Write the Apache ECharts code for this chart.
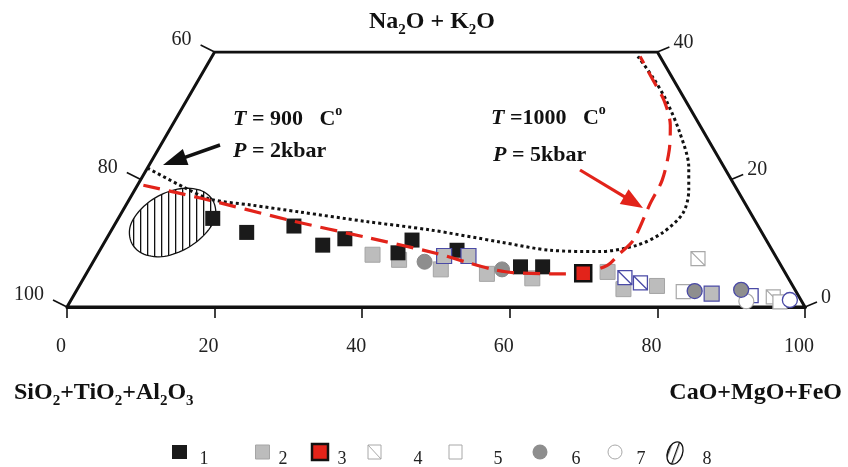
<!DOCTYPE html>
<html>
<head>
<meta charset="utf-8">
<script src="https://cdn.jsdelivr.net/npm/echarts@6/dist/echarts.min.js"></script>
<style>
html, body { margin: 0; padding: 0; background: #fff; }
#main { width: 848px; height: 467px; }
</style>
</head>
<body>
<div id="main"></div>
<script>
// points are [CaO+MgO+FeO, Na2O+K2O] in %, SiO2+TiO2+Al2O3 is the rest
var bottomTicks = [0, 20, 40, 60, 80, 100];
var leftTicks = [100, 80, 60];
var rightTicks = [0, 20, 40];
var frameCorners = [[0, 0], [100, 0], [60, 40], [0, 40], [0, 0]];

var group1 = [[12.8, 13.9], [18.5, 11.7], [24.4, 12.7], [29.8, 9.7], [32.3, 10.7], [40.6, 8.5], [41.5, 10.5], [48.4, 8.9], [58.3, 6.3], [61.3, 6.3]];
var group2 = [[37.3, 8.2], [41.3, 7.4], [47.7, 5.9], [54.3, 5.2], [60.8, 4.5], [70.5, 5.5], [74.0, 2.8], [78.3, 3.3]];
var group2b = [[47.1, 8.0], [50.4, 8.0], [86.3, 2.1]];
var group3 = [[67.3, 5.3]];
var group4 = [[81.7, 7.6], [94.9, 1.6]];
var group4b = [[73.3, 4.6], [75.8, 3.8]];
var group5 = [[82.3, 2.4], [96.2, 0.8]];
var group5b = [[91.8, 1.8]];
var group6 = [[44.9, 7.1], [56.0, 5.9]];
var group6b = [[83.8, 2.5], [90.0, 2.7]];
var group7 = [[91.6, 0.9]];
var group7b = [[97.4, 1.1]];

// field 8 outline
var field8 = [[11.6, 16.5], [9.2, 18.2], [6.4, 18.6], [3.9, 17.6], [2.4, 15.5], [2.2, 12.8], [3.6, 10.2], [6.0, 8.4], [8.9, 7.9], [11.4, 9.0], [12.9, 11.2], [13.1, 13.9]];

// T=900 C, P=2kbar (dotted)
var curve900 = [[0, 21.8], [6.4, 18.8], [11.0, 16.9], [16.9, 16.0], [24.1, 14.9], [33.9, 13.4], [43.1, 12.1], [53.6, 10.2], [61.0, 8.9], [67.8, 8.7], [72.4, 9.7], [74.9, 11.7], [76.1, 14.7], [75.1, 18.3], [73.3, 21.9], [69.4, 27.3], [65.0, 32.4], [61.4, 36.0], [57.7, 39.3]];
// T=1000 C, P=5kbar (dashed)
var curve1000 = [[0.8, 19.1], [9.5, 17.1], [23.4, 13.6], [35.2, 10.9], [45.9, 8.4], [50.7, 7.0], [54.8, 5.9], [57.7, 5.4], [63.8, 5.2], [66.9, 5.3], [69.9, 6.5], [70.7, 8.4], [71.5, 10.5], [70.9, 16.3], [70.7, 19.9], [69.3, 24.6], [67.5, 28.5], [64.7, 32.4], [61.6, 35.6], [58.0, 39.3]];

var serif = '"Liberation Serif", "Times New Roman", serif';
var blue = '#4a4aa6';
var pale = '#a8a8a8';
var red = '#e2231a';

function tern(p) { return [p[0] + p[1] / 2, p[1]]; }
function pts(arr) { return arr.map(tern); }

// closed catmull-rom through the outline pixels
function closedSpline(p, steps) {
    var out = [], n = p.length;
    for (var i = 0; i < n; i++) {
        var p0 = p[(i - 1 + n) % n], p1 = p[i], p2 = p[(i + 1) % n], p3 = p[(i + 2) % n];
        for (var s = 0; s < steps; s++) {
            var t = s / steps, t2 = t * t, t3 = t2 * t;
            out.push([0, 1].map(function (k) {
                return 0.5 * (2 * p1[k] + (-p0[k] + p2[k]) * t + (2 * p0[k] - 5 * p1[k] + 4 * p2[k] - p3[k]) * t2 +
                    (-p0[k] + 3 * p1[k] - 3 * p2[k] + p3[k]) * t3);
            }));
        }
    }
    return out;
}

var hatch = document.createElement('canvas');
hatch.width = 7; hatch.height = 7;
var hg = hatch.getContext('2d');
hg.fillStyle = '#fff'; hg.fillRect(0, 0, 7, 7);
hg.fillStyle = '#111'; hg.fillRect(0, 0, 1.3, 7);
var hatchFill = { image: hatch, repeat: 'repeat' };

var diagSquare = 'path://M0,0L10,0L10,10L0,10ZM0,0L10,10';

function dots(name, arr, symbol, size, style, z) {
    style.opacity = 1;
    return { type: 'scatter', name: name, data: pts(arr), symbol: symbol, symbolSize: size,
        symbolKeepAspect: true, itemStyle: style, z: z, silent: true };
}

function sideTicks(side) {
    return function (params, api) {
        var v = api.value(0);
        var p = side === 'left' ? api.coord(tern([0, 100 - v])) : api.coord(tern([100 - v, v]));
        var dx = side === 'left' ? -14 : 12, dy = side === 'left' ? -7 : -5;
        return {
            type: 'group',
            children: [
                { type: 'line', shape: { x1: p[0], y1: p[1], x2: p[0] + dx, y2: p[1] + dy },
                    style: { stroke: '#111', lineWidth: 1.6 } },
                { type: 'text', x: side === 'left' ? p[0] - 23 : p[0] + 16, y: p[1] + (side === 'left' ? -12 : -9.5),
                    style: { text: String(v), fontFamily: serif, fontSize: 20, fill: '#222',
                        align: side === 'left' ? 'right' : 'left', verticalAlign: 'middle' } }
            ]
        };
    };
}

function arrow(x1, y1, x2, y2, color, head, wide, lw) {
    var dx = x2 - x1, dy = y2 - y1, len = Math.sqrt(dx * dx + dy * dy);
    var ux = dx / len, uy = dy / len;
    var bx = x2 - ux * head, by = y2 - uy * head;
    return [
        { type: 'line', shape: { x1: x1, y1: y1, x2: bx + ux * 3, y2: by + uy * 3 }, style: { stroke: color, lineWidth: lw } },
        { type: 'polygon', shape: { points: [[x2, y2], [bx - uy * wide / 2, by + ux * wide / 2], [bx + uy * wide / 2, by - ux * wide / 2]] },
            style: { fill: color } }
    ];
}

var annRich = {
    i: { fontFamily: serif, fontSize: 22, fontWeight: 'bold', fontStyle: 'italic', lineHeight: 24, padding: [4, 0, 0, 0], verticalAlign: 'top', fill: '#111' },
    b: { fontFamily: serif, fontSize: 22, fontWeight: 'bold', lineHeight: 24, padding: [4, 0, 0, 0], verticalAlign: 'top', fill: '#111' },
    sup: { fontFamily: serif, fontSize: 14, fontWeight: 'bold', lineHeight: 14, verticalAlign: 'top', fill: '#111' }
};
var titleRich = {
    b: { fontFamily: serif, fontSize: 24, fontWeight: 'bold', lineHeight: 27, verticalAlign: 'top', fill: '#111' },
    s: { fontFamily: serif, fontSize: 15, fontWeight: 'bold', lineHeight: 16, padding: [13, 0, 0, 0], verticalAlign: 'top', fill: '#111' }
};

// legend
var legendY = 452;
var legendGraphics = [];
function legendLabel(txt, x) {
    legendGraphics.push({ type: 'text', x: x, y: legendY + 7, style: { text: txt, fontFamily: serif, fontSize: 18,
        fill: '#222', align: 'center', verticalAlign: 'middle' } });
}
legendGraphics.push({ type: 'rect', shape: { x: 172, y: legendY - 7, width: 15, height: 14 }, style: { fill: '#1a1a1a' } });
legendLabel('1', 204);
legendGraphics.push({ type: 'rect', shape: { x: 255.5, y: legendY - 7, width: 14, height: 14 }, style: { fill: '#bcbcbc', stroke: '#a5a5a5', lineWidth: 1 } });
legendLabel('2', 283);
legendGraphics.push({ type: 'rect', shape: { x: 312, y: legendY - 8, width: 16, height: 16 }, style: { fill: red, stroke: '#111', lineWidth: 2.5 } });
legendLabel('3', 342);
legendGraphics.push({ type: 'rect', shape: { x: 368, y: legendY - 7, width: 13, height: 14 }, style: { fill: '#fff', stroke: pale, lineWidth: 1 } });
legendGraphics.push({ type: 'line', shape: { x1: 368, y1: legendY - 7, x2: 381, y2: legendY + 7 }, style: { stroke: pale, lineWidth: 1 } });
legendLabel('4', 418);
legendGraphics.push({ type: 'rect', shape: { x: 449, y: legendY - 7, width: 13, height: 14 }, style: { fill: '#fff', stroke: pale, lineWidth: 1 } });
legendLabel('5', 498);
legendGraphics.push({ type: 'circle', shape: { cx: 540, cy: legendY, r: 7.5 }, style: { fill: '#8e8e8e' } });
legendLabel('6', 576);
legendGraphics.push({ type: 'circle', shape: { cx: 615, cy: legendY, r: 7 }, style: { fill: '#fff', stroke: pale, lineWidth: 1 } });
legendLabel('7', 641);
legendGraphics.push({ type: 'ellipse', x: 675, y: legendY + 1, rotation: -0.35, shape: { cx: 0, cy: 0, rx: 7.5, ry: 11.5 },
    style: { fill: hatchFill, stroke: '#111', lineWidth: 1.3 } });
legendLabel('8', 707);

var chart = echarts.init(document.getElementById('main'));

chart.setOption({
    animation: false,
    grid: { left: 67, top: 52, width: 738, height: 255 },
    xAxis: {
        type: 'value', min: 0, max: 100, interval: 20,
        axisLine: { lineStyle: { color: '#111', width: 3 } },
        axisTick: { show: true, inside: false, length: 11, lineStyle: { color: '#111', width: 1.6 } },
        axisLabel: { margin: 30, fontFamily: serif, fontSize: 20, color: '#222', padding: [0, 12, 0, 0],
            formatter: function (v) { return bottomTicks.indexOf(v) >= 0 ? String(v) : ''; } },
        splitLine: { show: false }
    },
    yAxis: { type: 'value', min: 0, max: 40, show: false, splitLine: { show: false } },
    series: [
        { type: 'line', data: pts(frameCorners), symbol: 'none', silent: true, z: 1,
            lineStyle: { color: '#111', width: 3, join: 'miter' } },
        { type: 'custom', coordinateSystem: 'cartesian2d', data: [[0, 0]], silent: true, z: 2,
            renderItem: function (params, api) {
                var poly = field8.map(function (p) { return api.coord(tern(p)); });
                return { type: 'polygon', shape: { points: closedSpline(poly, 8) },
                    style: { fill: hatchFill, stroke: '#111', lineWidth: 1.3 } };
            } },
        dots('2', group2, 'rect', 15, { color: '#bcbcbc', borderColor: '#a5a5a5', borderWidth: 1 }, 3),
        dots('1', group1, 'rect', 15, { color: '#1a1a1a' }, 4),
        dots('2b', group2b, 'rect', 15, { color: '#bcbcbc', borderColor: blue, borderWidth: 1.2 }, 5),
        dots('4', group4, diagSquare, 14, { color: '#fff', borderColor: pale, borderWidth: 1.2 }, 5),
        dots('4b', group4b, diagSquare, 14, { color: '#fff', borderColor: blue, borderWidth: 1.3 }, 5),
        dots('5', group5, 'rect', 14, { color: '#fff', borderColor: pale, borderWidth: 1.2 }, 5),
        dots('5b', group5b, 'rect', 14, { color: '#fff', borderColor: blue, borderWidth: 1.3 }, 5),
        dots('7', group7, 'circle', 15, { color: '#fff', borderColor: pale, borderWidth: 1.2 }, 6),
        dots('6', group6, 'circle', 15, { color: '#8e8e8e', borderColor: '#888', borderWidth: 1 }, 6),
        dots('6b', group6b, 'circle', 15, { color: '#8e8e8e', borderColor: blue, borderWidth: 1.3 }, 6),
        dots('7b', group7b, 'circle', 15, { color: '#fff', borderColor: blue, borderWidth: 1.3 }, 6),
        dots('3', group3, 'rect', 16, { color: red, borderColor: '#111', borderWidth: 2.5 }, 8),
        { type: 'line', data: pts(curve900), smooth: 0.3, symbol: 'none', silent: true, z: 7,
            lineStyle: { color: '#111', width: 3, type: [3, 3] } },
        { type: 'line', data: pts(curve1000), smooth: 0.3, symbol: 'none', silent: true, z: 7,
            lineStyle: { color: red, width: 3.2, type: [17, 9] } },
        { type: 'custom', coordinateSystem: 'cartesian2d', data: leftTicks.map(function (v) { return [v, 0]; }),
            renderItem: sideTicks('left'), silent: true, z: 9 },
        { type: 'custom', coordinateSystem: 'cartesian2d', data: rightTicks.map(function (v) { return [v, 0]; }),
            renderItem: sideTicks('right'), silent: true, z: 9 }
    ],
    graphic: [
        { type: 'text', x: 432, y: 10, style: { text: '{b|Na}{s|2}{b|O + K}{s|2}{b|O}', rich: titleRich, align: 'center', verticalAlign: 'top' } },
        { type: 'text', x: 14, y: 381, style: { text: '{b|SiO}{s|2}{b|+TiO}{s|2}{b|+Al}{s|2}{b|O}{s|3}', rich: titleRich, align: 'left', verticalAlign: 'top' } },
        { type: 'text', x: 842, y: 381, style: { text: '{b|CaO+MgO+FeO}', rich: titleRich, align: 'right', verticalAlign: 'top' } },
        { type: 'text', x: 233, y: 104, style: { text: '{i|T}{b| = 900   C}{sup|o}', rich: annRich, align: 'left', verticalAlign: 'top' } },
        { type: 'text', x: 233, y: 136, style: { text: '{i|P}{b| = 2kbar}', rich: annRich, align: 'left', verticalAlign: 'top' } },
        { type: 'text', x: 491, y: 103, style: { text: '{i|T}{b| =1000   C}{sup|o}', rich: annRich, align: 'left', verticalAlign: 'top' } },
        { type: 'text', x: 493, y: 140, style: { text: '{i|P}{b| = 5kbar}', rich: annRich, align: 'left', verticalAlign: 'top' } }
    ].concat(arrow(220, 145, 163, 165, '#111', 24, 17, 3.5))
     .concat(arrow(580, 170, 643, 208, red, 22, 17, 3.2))
     .concat(legendGraphics)
});
</script>
</body>
</html>
